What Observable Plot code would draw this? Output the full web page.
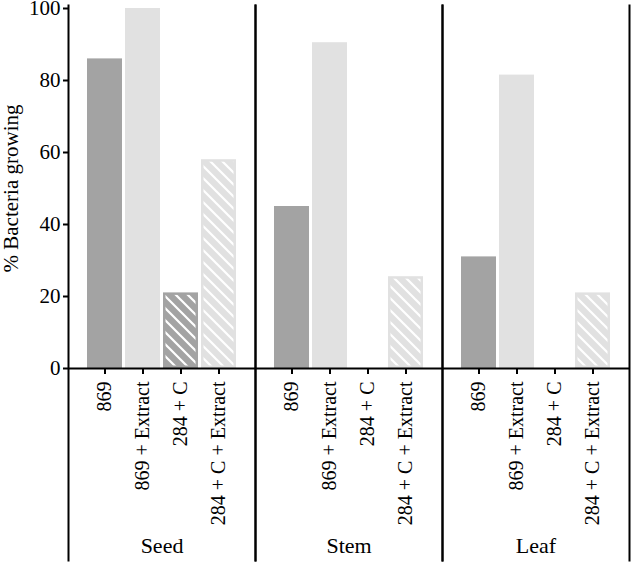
<!DOCTYPE html>
<html>
<head>
<meta charset="utf-8">
<script src="https://cdn.jsdelivr.net/npm/d3@7"></script>
<script src="https://cdn.jsdelivr.net/npm/@observablehq/plot@0.6"></script>
<style>
  html, body { margin: 0; padding: 0; background: #fff; }
  #chart svg { display: block; }
</style>
</head>
<body>
<svg width="0" height="0" style="position:absolute">
  <defs>
    <pattern id="hatch" patternUnits="userSpaceOnUse" width="12" height="12">
      <path d="M-3,-3 L15,15 M-3,9 L3,15 M9,-3 L15,3" stroke="#ffffff" stroke-width="2.2" fill="none"/>
    </pattern>
  </defs>
</svg>
<div id="chart"></div>
<script>
const tissues = ["Seed", "Stem", "Leaf"];
const treatments = ["869", "869 + Extract", "284 + C", "284 + C + Extract"];
const hatched = ["284 + C", "284 + C + Extract"];
const seedValues = [86, 100, 21, 58];
const stemValues = [45, 90.5, 0, 25.5];
const leafValues = [31, 81.5, 0, 21];
const yTicks = [0, 20, 40, 60, 80, 100];
const baseColors = ["#a3a3a3", "#e1e1e1", "#a3a3a3", "#e1e1e1"];

const valuesByTissue = {Seed: seedValues, Stem: stemValues, Leaf: leafValues};
const data = tissues.flatMap(t => treatments.map((tr, i) => ({tissue: t, treatment: tr, value: valuesByTissue[t][i]})));
const hatchData = data.filter(d => hatched.includes(d.treatment) && d.value > 0);

const serif = "Liberation Serif";

const chart = Plot.plot({
  width: 634,
  height: 564,
  marginLeft: 67,
  marginRight: 5,
  marginTop: 8,
  marginBottom: 196,
  style: {fontFamily: serif, color: "#000", background: "#fff"},
  fx: {domain: tissues, padding: 0},
  x: {domain: treatments, paddingInner: 0.08, paddingOuter: 0.5},
  y: {domain: [0, 100]},
  color: {domain: treatments, range: baseColors},
  marks: [
    Plot.barY(data, {fx: "tissue", x: "treatment", y: "value", fill: "treatment"}),
    Plot.barY(hatchData, {fx: "tissue", x: "treatment", y: "value", fill: "url(#hatch)", inset: 2.5}),
    Plot.ruleY([0], {stroke: "#000", strokeWidth: 2}),
    Plot.frame({anchor: "left", stroke: "#000", strokeWidth: 2, insetTop: -3, insetBottom: -192}),
    Plot.frame({anchor: "right", stroke: "#000", strokeWidth: 2, insetTop: -3, insetBottom: -192}),
    Plot.axisY({ticks: yTicks, tickSize: 5, tickPadding: 3, strokeWidth: 2, fontSize: 21,
      label: "% Bacteria growing", labelAnchor: "center", labelArrow: "none", labelOffset: 65}),
    Plot.axisX({tickSize: 6, tickPadding: 7, strokeWidth: 2, tickRotate: -90, fontSize: 20, label: null}),
    Plot.axisFx({anchor: "bottom", tickSize: 0, tickPadding: 169, fontSize: 22, label: null})
  ]
});
chart.setAttribute("font-family", serif);
chart.querySelectorAll("g, text").forEach(el => el.setAttribute("font-family", serif));
document.getElementById("chart").appendChild(chart);
</script>
</body>
</html>
